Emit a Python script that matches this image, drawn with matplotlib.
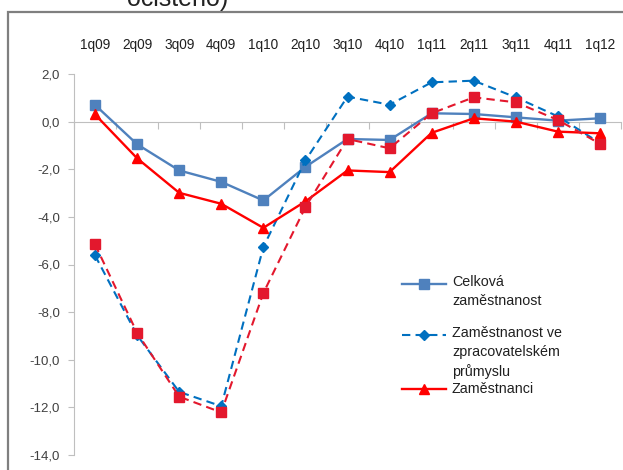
import matplotlib

matplotlib.use("Agg")
import matplotlib.pyplot as plt
from matplotlib.lines import Line2D
from matplotlib.patches import Rectangle
from matplotlib.ticker import FixedLocator, FuncFormatter
from matplotlib.transforms import blended_transform_factory

plt.rcParams["font.family"] = ["Liberation Sans", "DejaVu Sans"]

quarters = ["1q09", "2q09", "3q09", "4q09", "1q10", "2q10", "3q10",
            "4q10", "1q11", "2q11", "3q11", "4q11", "1q12"]
celkova = [0.7, -0.95, -2.05, -2.53, -3.31, -1.9, -0.73,
           -0.77, 0.35, 0.32, 0.18, 0.04, 0.14]
zpracovatelsky = [-5.62, -8.97, -11.35, -11.95, -5.27, -1.63, 1.05,
                  0.71, 1.65, 1.72, 1.02, 0.22, -0.9]
zamestnanci = [0.3, -1.54, -2.99, -3.45, -4.46, -3.35, -2.05,
               -2.12, -0.47, 0.14, 0.0, -0.42, -0.49]
zpracovatelsky_zam = [-5.16, -8.87, -11.55, -12.21, -7.2, -3.59, -0.73,
                      -1.12, 0.35, 1.02, 0.81, 0.07, -0.93]
legend_labels = ["Celková\nzaměstnanost",
                 "Zaměstnanost ve\nzpracovatelském\nprůmyslu",
                 "Zaměstnanci"]

W, H = 623, 470
fig = plt.figure(figsize=(W / 100, H / 100), dpi=100)
ax = fig.add_axes([74 / W, (H - 455) / H, (621 - 74) / W, (455 - 74) / H])

# outer frame of the original slide chart
fig.patches.append(Rectangle((8 / W, -0.05), 1.1, (H - 12) / H + 0.05,
                             transform=fig.transFigure, fill=False,
                             edgecolor="#7f7f7f", lw=1.6))
fig.text(127 / W, (H - 6) / H, "očištěno)", fontsize=18, color="#222222",
         va="baseline", ha="left")

x = list(range(len(quarters)))
ax.plot(x, celkova, color="#4F81BD", lw=1.7, marker="s", ms=7, zorder=3)
ax.plot(x, zpracovatelsky, color="#0070C0", lw=1.5, ls=(0, (4, 2.5)),
        marker="D", ms=5, zorder=3)
ax.plot(x, zamestnanci, color="#FF0000", lw=1.7, marker="^", ms=7, zorder=4)
ax.plot(x, zpracovatelsky_zam, color="#E3182D", lw=1.5, ls=(0, (4, 2.5)),
        marker="s", ms=6.5, zorder=4)

ax.set_xlim(-0.5, len(quarters) - 0.5)
ax.set_ylim(-14, 2)
ax.set_yticks(range(-14, 3, 2))
ax.yaxis.set_major_formatter(FuncFormatter(lambda v, _: f"{v:.1f}".replace(".", ",")))
ax.tick_params(axis="y", direction="out", length=4, color="#bfbfbf",
               labelcolor="#404040", labelsize=9.5, pad=6)

for side in ("top", "right"):
    ax.spines[side].set_visible(False)
ax.spines["left"].set_color("#bfbfbf")
ax.spines["bottom"].set_position(("data", 0))
ax.spines["bottom"].set_color("#bfbfbf")
ax.xaxis.set_major_locator(FixedLocator([i - 0.5 for i in range(len(quarters) + 1)]))
ax.tick_params(axis="x", direction="out", length=5, color="#bfbfbf",
               labelbottom=False)

trans = blended_transform_factory(ax.transData, ax.transAxes)
for i, q in enumerate(quarters):
    ax.text(i, 1 + 29 / 381, q, transform=trans, ha="center", va="center",
            fontsize=9.8, color="#202020")

# legend drawn by hand to mimic the overlapping Excel layout
handles = [
    dict(color="#4F81BD", lw=1.7, ls="-", marker="s", ms=7.5),
    dict(color="#0070C0", lw=1.5, ls=(0, (4, 2.5)), marker="D", ms=5),
    dict(color="#FF0000", lw=1.7, ls="-", marker="^", ms=7),
]
rows_px = [284, 335, 389]
xa0, xa1 = (402 - 74) / 547, (446 - 74) / 547
for style, label, ypx in zip(handles, legend_labels, rows_px):
    ya = (455 - ypx) / 381
    ax.add_line(Line2D([xa0, xa1], [ya, ya], transform=ax.transAxes,
                       color=style["color"], lw=style["lw"], ls=style["ls"]))
    ax.add_line(Line2D([(xa0 + xa1) / 2], [ya], transform=ax.transAxes,
                       color=style["color"], marker=style["marker"],
                       ms=style["ms"], ls="none"))
    multi = "\n" in label
    ty = ya + 9 / 381 if multi else ya
    ax.text((452 - 74) / 547, ty, label, transform=ax.transAxes, ha="left",
            va="top" if multi else "center", fontsize=10.3,
            color="#202020", linespacing=1.45)

fig.savefig("out.png", dpi=100)
